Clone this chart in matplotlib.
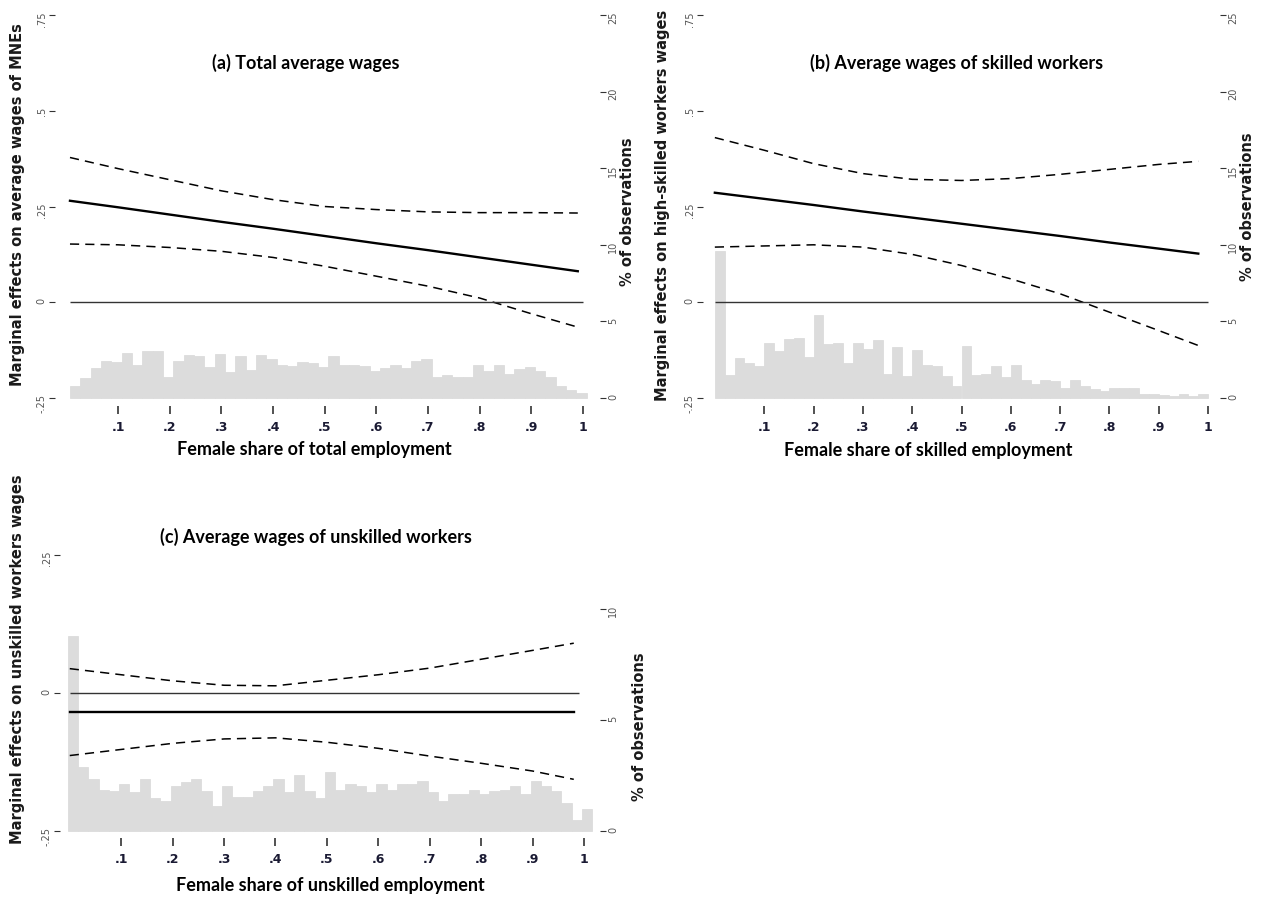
import numpy as np
import matplotlib.pyplot as plt

W, H = 1268, 898

# ---- histogram heights (% of observations), bins of width .02 ----
hist_a = [0.79, 1.28, 1.96, 2.40, 2.34, 2.96, 2.17, 3.09, 3.09, 1.36,
          2.43, 2.83, 2.77, 2.04, 2.89, 1.72, 2.72, 1.85, 2.79, 2.53,
          2.17, 2.09, 2.34, 2.28, 2.04, 2.72, 2.13, 2.17, 2.11, 1.79,
          1.96, 2.17, 1.98, 2.40, 2.53, 1.36, 1.49, 1.36, 1.36, 2.17,
          1.79, 2.17, 1.55, 1.91, 2.04, 1.79, 1.36, 0.81, 0.51, 0.34]
hist_b = [9.59, 1.48, 2.61, 2.31, 2.11, 3.57, 3.05, 3.88, 3.94, 2.66,
          5.40, 3.53, 3.57, 2.29, 3.57, 3.18, 3.81, 1.55, 3.31, 1.42,
          3.16, 2.18, 2.11, 1.42, 0.81, 3.42, 1.48, 1.55, 2.11, 1.35,
          2.18, 1.18, 0.92, 1.18, 1.09, 0.68, 1.18, 0.78, 0.61, 0.46,
          0.63, 0.63, 0.63, 0.26, 0.26, 0.17, 0.11, 0.24, 0.13, 0.24]
hist_c = [8.77, 2.88, 2.34, 1.86, 1.80, 2.13, 1.74, 2.34, 1.49, 1.35,
          2.01, 2.22, 2.34, 1.80, 1.14, 2.01, 1.53, 1.53, 1.80, 2.01,
          2.34, 1.74, 2.51, 1.80, 1.47, 2.64, 1.83, 2.13, 2.01, 1.74,
          2.13, 1.86, 2.13, 2.13, 2.25, 1.74, 1.35, 1.68, 1.68, 1.86,
          1.68, 1.80, 1.86, 2.01, 1.68, 2.25, 2.01, 1.80, 1.26, 0.51, 0.99]
bin_w = 0.02

# ---- marginal effects with 95% CI ----
x_a = [0.007, .1, .2, .3, .4, .5, .6, .7, .8, .9, .99]
est_a = [0.265, 0.248, 0.229, 0.210, 0.192, 0.173, 0.154, 0.136, 0.117, 0.098, 0.081]
hi_a = [0.378, 0.349, 0.320, 0.291, 0.268, 0.250, 0.242, 0.236, 0.234, 0.234, 0.233]
lo_a = [0.152, 0.150, 0.143, 0.133, 0.117, 0.094, 0.068, 0.042, 0.011, -0.030, -0.065]

x_b = [0.0, .1, .2, .3, .4, .5, .6, .7, .8, .9, .98]
est_b = [0.286, 0.270, 0.254, 0.237, 0.221, 0.205, 0.189, 0.173, 0.156, 0.140, 0.127]
hi_b = [0.430, 0.397, 0.362, 0.336, 0.321, 0.318, 0.323, 0.334, 0.347, 0.360, 0.368]
lo_b = [0.144, 0.147, 0.150, 0.144, 0.125, 0.096, 0.061, 0.022, -0.026, -0.074, -0.113]

x_c = [0.0, .1, .2, .3, .4, .5, .6, .7, .8, .9, .98]
est_c = [-0.035, -0.035, -0.035, -0.035, -0.035, -0.035, -0.035, -0.035, -0.035, -0.035, -0.035]
hi_c = [0.044, 0.033, 0.022, 0.014, 0.013, 0.023, 0.033, 0.045, 0.061, 0.077, 0.090]
lo_c = [-0.113, -0.102, -0.091, -0.083, -0.081, -0.089, -0.100, -0.114, -0.127, -0.141, -0.156]

xticks = [.1, .2, .3, .4, .5, .6, .7, .8, .9, 1]
xticklabels = ['.1', '.2', '.3', '.4', '.5', '.6', '.7', '.8', '.9', '1']

TITLE_FONT = 'Lato'
LABEL_FONT = 'DejaVu Sans'
BAR_GREY = '#dcdcdc'

fig = plt.figure(figsize=(W / 100, H / 100), dpi=100)


def px_rect(l, r, t, b):
    return [l / W, 1 - b / H, (r - l) / W, (b - t) / H]


def panel(rect, xlim, ylim_l, ylim_r, hist, hist_start, x, est, hi, lo,
          lticks, lticklabels, rticks, zero_end):
    ax = fig.add_axes(rect)          # histogram, right scale
    ax2 = ax.twinx()                 # estimates, left scale
    centers = hist_start + bin_w * (np.arange(len(hist)) + 0.5)
    ax.bar(centers, hist, width=bin_w, color=BAR_GREY, edgecolor=BAR_GREY, linewidth=0.6)
    ax.set_xlim(xlim)
    ax.set_ylim(ylim_r)
    ax.set_xticks(xticks)
    ax.set_xticklabels(xticklabels, fontweight='bold')
    ax.tick_params(axis='x', labelsize=9, labelcolor='#1a1a33', color='#222222',
                   length=6, width=1.1, pad=5)

    ax2.set_ylim(ylim_l)
    ax2.plot(x, hi, color='black', lw=1.1, ls=(0, (6, 4)))
    ax2.plot(x, lo, color='black', lw=1.1, ls=(0, (6, 4)))
    ax2.plot(x, est, color='black', lw=1.7)
    ax2.hlines(0, x[0], zero_end, color='#333333', lw=1.0)

    # swap sides: histogram scale on the right, estimates on the left
    ax.yaxis.tick_right()
    ax.set_yticks(rticks)
    ax.set_yticklabels([str(t) for t in rticks])
    ax.tick_params(axis='y', which='both', left=False, labelleft=False,
                   right=True, labelright=True, labelsize=7, labelcolor='#555555',
                   color='#333333', length=4, labelrotation=90, pad=2)
    ax2.yaxis.tick_left()
    ax2.set_yticks(lticks)
    ax2.set_yticklabels(lticklabels)
    ax2.tick_params(axis='y', which='both', right=False, labelright=False,
                    left=True, labelleft=True, labelsize=7, labelcolor='#555555',
                    color='#333333', length=4, labelrotation=90, pad=2)
    for a in (ax, ax2):
        for s in a.spines.values():
            s.set_visible(False)
    return ax, ax2


# (a)
panel(px_rect(55, 600, 12, 406), (-0.022, 1.033), (-0.271, 0.758), (-0.52, 25.2),
      hist_a, 0.007, x_a, est_a, hi_a, lo_a,
      [-.25, 0, .25, .5, .75], ['-.25', '0', '.25', '.5', '.75'],
      [0, 5, 10, 15, 20, 25], 1.0)
# (b)
panel(px_rect(703, 1220, 12, 406), (-0.024, 1.024), (-0.271, 0.758), (-0.52, 25.2),
      hist_b, 0.0, x_b, est_b, hi_b, lo_b,
      [-.25, 0, .25, .5, .75], ['-.25', '0', '.25', '.5', '.75'],
      [0, 5, 10, 15, 20, 25], 1.0)
# (c)
panel(px_rect(60, 600, 548, 838), (-0.019, 1.031), (-0.262, 0.262), (-0.315, 12.75),
      hist_c, -0.004, x_c, est_c, hi_c, lo_c,
      [-.25, 0, .25], ['-.25', '0', '.25'],
      [0, 5, 10], 0.99)


def ftext(x, y, s, **kw):
    fig.text(x / W, 1 - y / H, s, ha='center', va='center', **kw)


tit = dict(fontsize=13, fontweight='bold', family=TITLE_FONT)
ftext(306, 63, '(a) Total average wages', **tit)
ftext(957, 63, '(b) Average wages of skilled workers', **tit)
ftext(316, 537, '(c) Average wages of unskilled workers', **tit)

ftext(314, 449, 'Female share of total employment', **tit)
ftext(928, 451, 'Female share of skilled employment', **tit)
ftext(330, 886, 'Female share of unskilled employment', **tit)

lab = dict(fontsize=10.5, fontweight='bold', family=LABEL_FONT, rotation=90, color='#1a1a1a')
ftext(18, 205, 'Marginal effects on average wages of MNEs', **lab)
ftext(628, 212, '% of observations', **lab)
ftext(663, 205, 'Marginal effects on high-skilled workers wages', **lab)
ftext(1248, 207, '% of observations', **lab)
ftext(18, 659, 'Marginal effects on unskilled workers wages', **lab)
ftext(640, 727, '% of observations', **lab)

fig.savefig('out.png', dpi=100)
